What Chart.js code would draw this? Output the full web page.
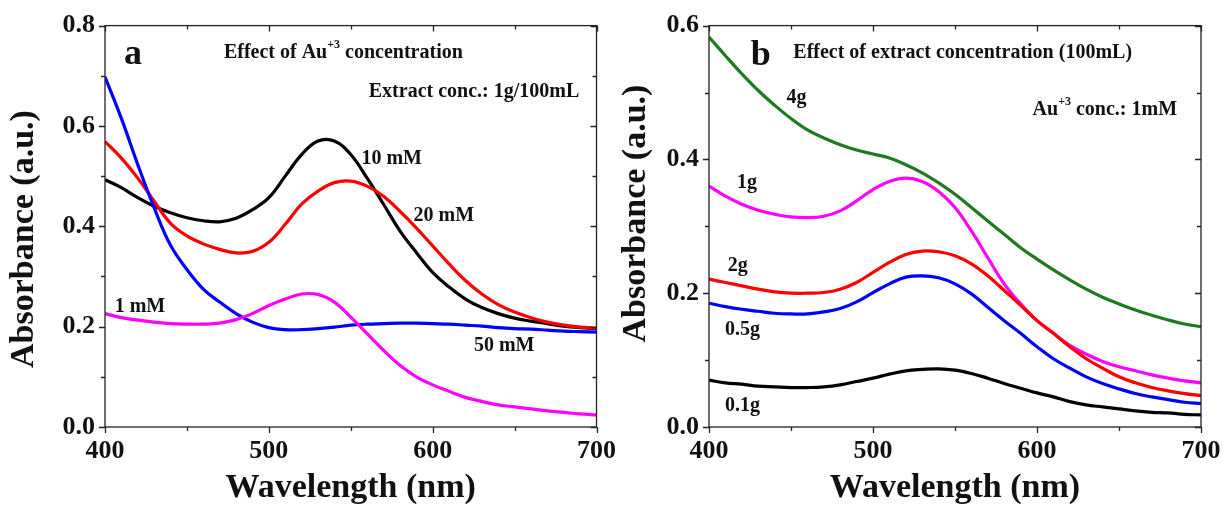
<!DOCTYPE html>
<html><head><meta charset="utf-8">
<script src="https://cdn.jsdelivr.net/npm/chart.js@4.4.1/dist/chart.umd.min.js"></script>
<style>
html,body{margin:0;padding:0;background:#fff;width:1223px;height:509px;overflow:hidden;position:relative}
canvas{position:absolute;top:0}
#ca{left:0}
#cb{left:611px}
</style></head><body>
<canvas id="ca" width="625" height="509"></canvas>
<canvas id="cb" width="640" height="509"></canvas>
<script>
// ---------- DATA ----------
const wavelengths = [400,410,420,430,440,450,460,470,480,490,500,510,520,530,540,550,560,570,580,590,600,610,620,630,640,650,660,670,680,690,700];
const xTickLabels = ['400','500','600','700'];

// Panel a: effect of Au+3 concentration
const a_10mM = [0.493,0.477,0.457,0.440,0.427,0.417,0.411,0.409,0.416,0.433,0.457,0.500,0.543,0.570,0.570,0.543,0.496,0.444,0.391,0.348,0.308,0.279,0.255,0.238,0.226,0.217,0.211,0.206,0.201,0.198,0.196];
const a_20mM = [0.569,0.536,0.496,0.450,0.406,0.381,0.365,0.354,0.347,0.350,0.368,0.404,0.444,0.470,0.487,0.490,0.480,0.460,0.430,0.397,0.361,0.325,0.292,0.265,0.244,0.229,0.218,0.209,0.203,0.199,0.197];
const a_50mM = [0.698,0.615,0.523,0.437,0.362,0.314,0.275,0.249,0.226,0.209,0.198,0.194,0.194,0.196,0.199,0.203,0.205,0.206,0.207,0.207,0.206,0.205,0.203,0.201,0.198,0.196,0.195,0.193,0.191,0.190,0.189];
const a_1mM  = [0.226,0.218,0.213,0.209,0.206,0.205,0.205,0.207,0.214,0.226,0.242,0.255,0.265,0.264,0.249,0.219,0.186,0.153,0.123,0.100,0.084,0.071,0.059,0.051,0.044,0.040,0.036,0.032,0.029,0.026,0.024];
const aTickLabels = ['0.0','0.2','0.4','0.6','0.8'];

// Panel b: effect of extract concentration
const b_4g  = [0.583,0.555,0.528,0.503,0.481,0.461,0.444,0.432,0.422,0.414,0.408,0.402,0.392,0.380,0.365,0.348,0.328,0.308,0.288,0.268,0.251,0.235,0.220,0.206,0.194,0.184,0.175,0.167,0.160,0.154,0.150];
const b_1g  = [0.360,0.345,0.333,0.324,0.318,0.314,0.313,0.315,0.323,0.338,0.355,0.367,0.372,0.367,0.352,0.328,0.293,0.253,0.214,0.184,0.159,0.140,0.122,0.109,0.098,0.090,0.084,0.078,0.073,0.069,0.066];
const b_2g  = [0.221,0.216,0.211,0.206,0.202,0.200,0.200,0.201,0.206,0.216,0.231,0.246,0.258,0.263,0.262,0.256,0.244,0.226,0.204,0.182,0.159,0.140,0.120,0.102,0.088,0.075,0.066,0.059,0.054,0.050,0.047];
const b_05g = [0.185,0.180,0.176,0.173,0.170,0.169,0.169,0.172,0.177,0.187,0.201,0.214,0.224,0.226,0.223,0.214,0.199,0.179,0.159,0.140,0.120,0.102,0.088,0.075,0.065,0.057,0.050,0.045,0.041,0.037,0.035];
const b_01g = [0.070,0.066,0.064,0.061,0.060,0.059,0.059,0.060,0.063,0.068,0.073,0.079,0.084,0.086,0.087,0.085,0.080,0.073,0.065,0.058,0.051,0.045,0.038,0.033,0.030,0.027,0.024,0.022,0.021,0.019,0.018];
const bTickLabels = ['0.0','0.2','0.4','0.6'];

// ---------- STYLE / HELPERS ----------
const SERIF = "'Liberation Serif','Times New Roman',serif";
const INK = '#111';

function toPoints(ys){ return wavelengths.map((w,i)=>({x:w, y:ys[i]})); }
function ds(label, ys, color){
  return {label, data: toPoints(ys), borderColor: color, backgroundColor: color,
    borderWidth: 3.2, pointRadius: 0, fill: false, tension: 0.4};
}

const framePlugin = {
  id: 'frame',
  afterDatasetsDraw(chart){
    const {ctx, chartArea:{left,right,top,bottom}, scales:{x,y}} = chart;
    ctx.save();
    ctx.strokeStyle = '#222'; ctx.lineWidth = 1.3;
    ctx.strokeRect(left, top, right-left, bottom-top);
    ctx.beginPath();
    x.ticks.forEach(t=>{
      const px = Math.round(x.getPixelForValue(t.value)) + 0.5;
      const L = (Math.round(t.value) % 100 === 0) ? 6 : 4;
      ctx.moveTo(px, bottom); ctx.lineTo(px, bottom + L);
      ctx.moveTo(px, top); ctx.lineTo(px, top + L);
    });
    y.ticks.forEach(t=>{
      const py = Math.round(y.getPixelForValue(t.value)) + 0.5;
      const L = (Math.round(t.value*10) % 2 === 0) ? 6 : 4;
      ctx.moveTo(left, py); ctx.lineTo(left - L, py);
      ctx.moveTo(right, py); ctx.lineTo(right - L, py);
    });
    ctx.stroke();
    ctx.restore();
  }
};

const notesPlugin = {
  id: 'notes',
  afterDraw(chart, args, opts){
    const {ctx, scales:{x,y}} = chart;
    ctx.save();
    ctx.fillStyle = INK;
    ctx.textBaseline = 'alphabetic';
    ctx.textAlign = 'left';
    (opts.items || []).forEach(it=>{
      let px = x.getPixelForValue(it.x);
      const py = y.getPixelForValue(it.y);
      const size = it.size || 20;
      it.parts.forEach(p=>{
        if (p.sup){
          ctx.font = `bold ${Math.round(size*0.6)}px ${SERIF}`;
          ctx.fillText(p.s, px, py - size*0.5);
        } else {
          ctx.font = `bold ${size}px ${SERIF}`;
          ctx.fillText(p.s, px, py);
        }
        px += ctx.measureText(p.s).width;
      });
    });
    ctx.restore();
  }
};

function makeScales(ymax, yLabels, yTitle, yAxisWidth, xAxisHeight){
  return {
    x: {
      type: 'linear', min: 400, max: 700, position: 'bottom',
      ticks: {stepSize: 50, autoSkip: false, maxRotation: 0, padding: 9, color: INK,
        font: {family: SERIF, weight: 'bold', size: 26},
        callback: v => xTickLabels.includes(String(v)) ? String(v) : ''},
      grid: {display: false, drawTicks: false}, border: {display: false},
      title: {display: true, text: 'Wavelength (nm)', color: INK,
        font: {family: SERIF, weight: 'bold', size: 34}, padding: {top: 0, bottom: 0}},
      afterFit(s){ s.height = xAxisHeight; }
    },
    y: {
      type: 'linear', min: 0, max: ymax, position: 'left',
      ticks: {stepSize: 0.1, autoSkip: false, padding: 10, color: INK,
        font: {family: SERIF, weight: 'bold', size: 26},
        callback: v => { const s = v.toFixed(1); return yLabels.includes(s) ? s : ''; }},
      grid: {display: false, drawTicks: false}, border: {display: false},
      title: {display: true, text: yTitle, color: INK,
        font: {family: SERIF, weight: 'bold', size: 34}, padding: {top: 0, bottom: 0}},
      afterFit(s){ s.width = yAxisWidth; }
    }
  };
}

const commonOpts = {
  responsive: false, animation: false, devicePixelRatio: 1,
  plugins: {legend: {display: false}, tooltip: {enabled: false}}
};

new Chart(document.getElementById('ca'), {
  type: 'line',
  data: {datasets: [
    ds('1 mM', a_1mM, '#ff00ff'),
    ds('50 mM', a_50mM, '#0000ff'),
    ds('20 mM', a_20mM, '#ff0000'),
    ds('10 mM', a_10mM, '#000000')
  ]},
  options: Object.assign({}, commonOpts, {
    layout: {padding: {left: 4, top: 24, right: 28, bottom: 0}},
    scales: makeScales(0.8, aTickLabels, 'Absorbance (a.u.)   ', 101, 82),
    plugins: Object.assign({}, commonOpts.plugins, {notes: {items: [
      {x: 411.6, y: 0.7226, size: 36, parts: [{s: 'a'}]},
      {x: 472.6, y: 0.7345, parts: [{s: 'Effect of Au'}, {s: '+3', sup: true}, {s: ' concentration'}]},
      {x: 561, y: 0.657, parts: [{s: 'Extract conc.: 1g/100mL'}]},
      {x: 556.5, y: 0.524, parts: [{s: '10 mM'}]},
      {x: 588.3, y: 0.411, parts: [{s: '20 mM'}]},
      {x: 405.9, y: 0.229, parts: [{s: '1 mM'}]},
      {x: 625.2, y: 0.151, parts: [{s: '50 mM'}]}
    ]}})
  }),
  plugins: [framePlugin, notesPlugin]
});

new Chart(document.getElementById('cb'), {
  type: 'line',
  data: {datasets: [
    ds('0.1g', b_01g, '#000000'),
    ds('0.5g', b_05g, '#0000ff'),
    ds('2g', b_2g, '#ff0000'),
    ds('1g', b_1g, '#ff00ff'),
    ds('4g', b_4g, '#1f7a1f')
  ]},
  options: Object.assign({}, commonOpts, {
    layout: {padding: {left: 5, top: 24, right: 50, bottom: 0}},
    scales: makeScales(0.6, bTickLabels, '   Absorbance (a.u.)', 93, 82),
    plugins: Object.assign({}, commonOpts.plugins, {notes: {items: [
      {x: 425.5, y: 0.5414, size: 36, parts: [{s: 'b'}]},
      {x: 451.4, y: 0.5513, parts: [{s: 'Effect of extract concentration (100mL)'}]},
      {x: 597.3, y: 0.467, parts: [{s: 'Au'}, {s: '+3', sup: true}, {s: ' conc.: 1mM'}]},
      {x: 447.3, y: 0.4843, parts: [{s: '4g'}]},
      {x: 417, y: 0.3578, parts: [{s: '1g'}]},
      {x: 411.5, y: 0.2328, parts: [{s: '2g'}]},
      {x: 409.8, y: 0.138, parts: [{s: '0.5g'}]},
      {x: 409.8, y: 0.0243, parts: [{s: '0.1g'}]}
    ]}})
  }),
  plugins: [framePlugin, notesPlugin]
});
</script>
</body></html>
